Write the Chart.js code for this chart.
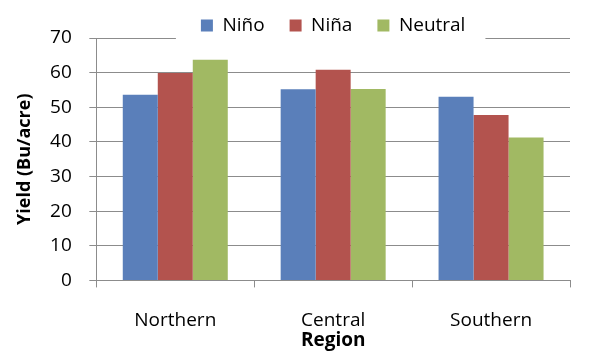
<!DOCTYPE html>
<html>
<head>
<meta charset="utf-8">
<script src="https://cdn.jsdelivr.net/npm/chart.js@4"></script>
<style>
  html, body { margin: 0; padding: 0; background: #fff; }
  #wrap { width: 600px; height: 353px; }
</style>
</head>
<body>
<div id="wrap"><canvas id="myChart"></canvas></div>
<script>
const regions = ['Northern', 'Central', 'Southern']
const nino = [53.6, 55.2, 53.0]
const nina = [59.9, 60.8, 47.8]
const neutral = [63.7, 55.3, 41.3]

const font = "'Open Sans', 'Liberation Sans', sans-serif"
const grey = '#8c8c8c'

// legend sits over the 70 gridline with a white box behind it
const legendBg = {
    id: 'legendBg',
    beforeDraw(chart) {
        const legend = chart.legend
        if (legend._wrapped) return
        const orig = legend.draw.bind(legend)
        legend.draw = function (area) {
            const boxes = legend.legendHitBoxes || []
            if (boxes.length) {
                const left = Math.min(...boxes.map(b => b.left)) - 25
                const right = Math.max(...boxes.map(b => b.left + b.width)) + 20
                const ctx = chart.ctx
                ctx.save()
                ctx.fillStyle = '#fff'
                ctx.fillRect(left, 0, right - left, legend.bottom + 3)
                ctx.restore()
            }
            orig(area)
        }
        legend._wrapped = true
    }
}

const data = {
    labels: regions,
    datasets: [
        { label: 'Niño', data: nino, backgroundColor: '#5A7FBA' },
        { label: 'Niña', data: nina, backgroundColor: '#B3534E' },
        { label: 'Neutral', data: neutral, backgroundColor: '#A1B963' },
    ]
}

const config = {
    type: 'bar',
    data: data,
    plugins: [legendBg],
    options: {
        responsive: false,
        animation: false,
        devicePixelRatio: 1,
        layout: { padding: { left: 14, right: 30, top: -9, bottom: 1 } },
        datasets: {
            bar: { barPercentage: 1, categoryPercentage: 0.665, borderWidth: 0 }
        },
        scales: {
            x: {
                grid: { display: true, drawOnChartArea: false, offset: true, tickLength: 7, color: grey },
                border: { color: grey },
                ticks: { color: '#000', font: { family: font, size: 19 }, padding: 22 },
                title: { display: true, text: 'Region', color: '#000', font: { family: font, size: 19, weight: 'bold' }, padding: { top: -25, bottom: 0 } }
            },
            y: {
                min: 0,
                max: 70,
                grid: { color: grey, tickLength: 7, z: -1 },
                border: { color: grey },
                ticks: { stepSize: 10, color: '#000', font: { family: font, size: 19 }, padding: 17.5 },
                title: { display: true, text: 'Yield (Bu/acre)', color: '#000', font: { family: font, size: 18, weight: 'bold' }, padding: { top: 0, bottom: -3 } }
            }
        },
        plugins: {
            legend: {
                position: 'top',
                fullSize: false,
                maxHeight: 47,
                labels: { boxWidth: 12, boxHeight: 12, color: '#000', font: { family: font, size: 19 }, padding: 25 }
            },
            tooltip: { enabled: false }
        }
    }
}

const canvas = document.getElementById('myChart')
canvas.width = 600
canvas.height = 353
new Chart(canvas, config)
</script>
</body>
</html>
